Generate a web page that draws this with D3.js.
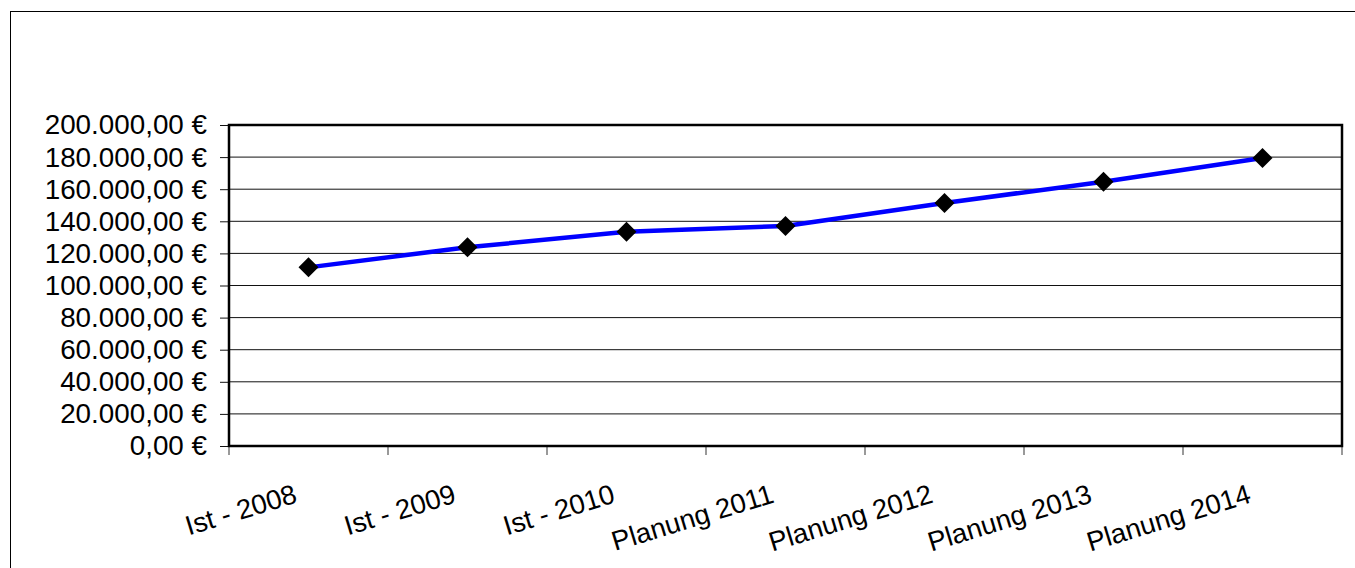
<!DOCTYPE html>
<html>
<head>
<meta charset="utf-8">
<script src="https://cdn.jsdelivr.net/npm/d3@7"></script>
<style>
  body { margin: 0; background: #fff; }
  svg { display: block; font-family: Arial, "Liberation Sans", sans-serif; }
</style>
</head>
<body>
<div id="chart"></div>
<script>
// data
const categories = ['Ist - 2008', 'Ist - 2009', 'Ist - 2010', 'Planung 2011', 'Planung 2012', 'Planung 2013', 'Planung 2014'];
const values = [111300, 123800, 133500, 137100, 151400, 164700, 179400];
const yTicks = [0, 20000, 40000, 60000, 80000, 100000, 120000, 140000, 160000, 180000, 200000];

const width = 1355, height = 568;
const plot = { left: 229, right: 1342, top: 125, bottom: 446 };

const de = d3.formatLocale({ decimal: ',', thousands: '.', grouping: [3], currency: ['', ' €'] });
const fmt = de.format('$,.2f');

const svg = d3.select('#chart').append('svg').attr('width', width).attr('height', height);

// outer chart frame (runs off the right/bottom edge)
svg.append('rect')
    .attr('x', 10.5).attr('y', 11.5)
    .attr('width', 1400).attr('height', 600)
    .attr('fill', 'none').attr('stroke', '#000').attr('stroke-width', 1);

const x = d3.scaleBand().domain(categories).range([plot.left, plot.right]).padding(0);
const y = d3.scaleLinear().domain([0, 200000]).range([plot.bottom, plot.top]);

// gridlines
svg.append('g').selectAll('line')
    .data(yTicks.slice(1, -1))
    .join('line')
    .attr('x1', plot.left).attr('x2', plot.right)
    .attr('y1', d => y(d)).attr('y2', d => y(d))
    .attr('stroke', '#111').attr('stroke-width', 1);

// y axis
const yAxis = svg.append('g')
    .attr('transform', `translate(${plot.left},0)`)
    .call(d3.axisLeft(y).tickValues(yTicks).tickFormat(fmt).tickSize(9).tickSizeOuter(0).tickPadding(13));
yAxis.select('.domain').remove();
yAxis.selectAll('.tick line').attr('stroke', '#111');
yAxis.selectAll('.tick text')
    .attr('font-size', 27.8)
    .attr('fill', '#000')
    .attr('font-family', 'Arial, "Liberation Sans", sans-serif');

// x ticks at the category boundaries
const bounds = categories.map(c => x(c)).concat([x.range()[1]]);
svg.append('g').selectAll('line')
    .data(bounds)
    .join('line')
    .attr('x1', d => d).attr('x2', d => d)
    .attr('y1', plot.bottom).attr('y2', plot.bottom + 9)
    .attr('stroke', '#777').attr('stroke-width', 1.5);

// x labels, rotated
svg.append('g').selectAll('text')
    .data(categories)
    .join('text')
    .attr('transform', d => `translate(${x(d) + x.bandwidth() / 2 - 10},502) rotate(-17)`)
    .attr('text-anchor', 'end')
    .attr('font-size', 27.5)
    .attr('fill', '#000')
    .text(d => d);

// plot frame
svg.append('rect')
    .attr('x', plot.left).attr('y', plot.top)
    .attr('width', plot.right - plot.left).attr('height', plot.bottom - plot.top)
    .attr('fill', 'none').attr('stroke', '#000').attr('stroke-width', 2.5);

// series line
const line = d3.line()
    .x((d, i) => x(categories[i]) + x.bandwidth() / 2)
    .y(d => y(d));

svg.append('path')
    .datum(values)
    .attr('d', line)
    .attr('fill', 'none')
    .attr('stroke', '#0000ff')
    .attr('stroke-width', 4.5)
    .attr('stroke-linejoin', 'round');

// diamond markers
svg.append('g').selectAll('path')
    .data(values)
    .join('path')
    .attr('transform', (d, i) => `translate(${x(categories[i]) + x.bandwidth() / 2},${y(d)})`)
    .attr('d', 'M0,-10L10,0L0,10L-10,0Z')
    .attr('fill', '#000');
</script>
</body>
</html>
